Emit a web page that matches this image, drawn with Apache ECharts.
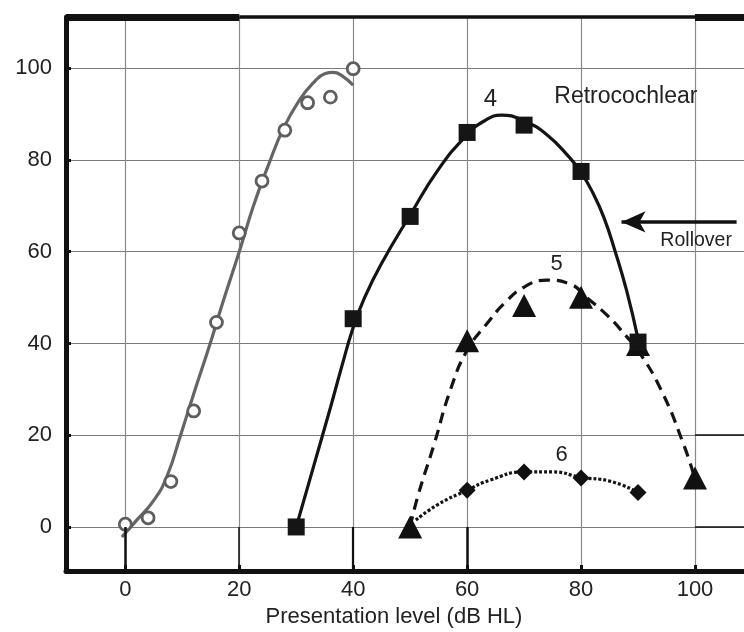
<!DOCTYPE html>
<html><head><meta charset="utf-8">
<script src="https://cdn.jsdelivr.net/npm/echarts@6/dist/echarts.min.js"></script>
<style>html,body{margin:0;padding:0;background:#fff}#c{width:744px;height:632px}</style>
</head><body><div id="c"></div>
<script>
// ---- data ----
const xTickValues = [0, 20, 40, 60, 80, 100];
const yTickValues = [0, 20, 40, 60, 80, 100];
const xAxisTitle = 'Presentation level (dB HL)';

// normal (cochlear) function: open circles + fitted gray curve
const normalX = [0, 4, 8, 12, 16, 20, 24, 28, 32, 36, 40];
const normalY = [0.6, 2.0, 9.9, 25.3, 44.6, 64.1, 75.4, 86.5, 92.5, 93.7, 99.9];
const normalFit = [[-0.6,-2.2],[2,1.5],[5,5.8],[7.3,11],[9.7,20],[12,29],[14.9,40],[17,48.5],[20,60],[22.5,70],[25,78.5],[27.8,87],[30.8,93.5],[33,96.8],[35,98.8],[36.5,99.1],[38,98.4],[40,96.3]];

// curve 4: squares + solid fit
const c4X = [30, 40, 50, 60, 70, 80, 90];
const c4Y = [0, 45.4, 67.7, 86, 87.6, 77.5, 40.3];
const c4Fit = [[30,0],[33,13],[36,26],[38,35],[40,43.5],[42,50],[45,57.5],[50,68],[55,78],[60,85.5],[63,88.5],[66,89.8],[70,88.5],[74,85.5],[78,80.5],[80,77.3],[82,73],[84,67.5],[86,60],[88,51.5],[90,41]];

// curve 5: triangles + dashed fit
const c5X = [50, 60, 70, 80, 90, 100];
const c5Y = [0, 40.6, 48.3, 50.1, 39.8, 10.7];
const c5Fit = [[50,0],[51.3,6.5],[54.2,18],[57.1,30],[60,38.5],[63.6,44.5],[66.5,48.7],[70,52.3],[74,53.8],[78,53],[81,50],[84.7,46],[88,41.5],[90,38.5],[94,30],[98,18],[100,10.5]];

// curve 6: diamonds + dotted fit
const c6X = [60, 70, 80, 90];
const c6Y = [8, 12, 10.7, 7.5];
const c6Fit = [[51,1.5],[55,5],[60,8],[64,10.2],[70,12],[75,12],[80,10.8],[85,10],[90,7.6]];

// annotation texts
const annoTexts = ['4', 'Retrocochlear', '5', '6', 'Rollover'];

// ---- chart ----
const FONT = "'Liberation Sans', Arial, Helvetica, sans-serif";
const pairs = (xs, ys) => xs.map((x, i) => [x, ys[i]]);
const X_MIN = -10.41, X_MAX = 111.41, Y_MIN = -9.6, Y_MAX = 111.17;

const seg = (a, b, width, color) => [
  { coord: a, symbol: 'none', lineStyle: { width: width, color: color || '#111', type: 'solid' } },
  { coord: b, symbol: 'none', lineStyle: { width: width, color: color || '#111', type: 'solid' } }
];
const txt = (text, x, y, size, align) => ({
  coord: [x, y], value: 0, symbol: 'circle', symbolSize: 0,
  label: { show: true, formatter: text, position: 'inside', fontSize: size, fontFamily: FONT,
           color: '#222', align: align || 'center', verticalAlign: 'middle' }
});

const chart = echarts.init(document.getElementById('c'), null, { renderer: 'canvas' });
chart.setOption({
  animation: false,
  backgroundColor: '#fff',
  grid: { left: 66, top: 17, width: 694, height: 554, containLabel: false, outerBoundsMode: 'none' },
  xAxis: {
    type: 'value', min: X_MIN, max: X_MAX, minInterval: 20, maxInterval: 20,
    name: xAxisTitle, nameLocation: 'middle', nameGap: 34,
    nameTextStyle: { fontSize: 22, fontFamily: FONT, color: '#222', padding: [0, 38, 0, 0] },
    axisLine: { show: true, onZero: false, lineStyle: { color: '#111', width: 5 } },
    axisTick: { show: true, inside: true, length: 6, lineStyle: { color: '#111', width: 3 } },
    axisLabel: { fontSize: 22, fontFamily: FONT, color: '#222', margin: 8,
      formatter: v => (xTickValues.indexOf(v) >= 0 ? String(v) : '') },
    splitLine: { show: true, lineStyle: { color: '#8a8a8a', width: 1.2 } }
  },
  yAxis: {
    type: 'value', min: Y_MIN, max: Y_MAX, minInterval: 20, maxInterval: 20,
    axisLine: { show: true, onZero: false, lineStyle: { color: '#111', width: 5 } },
    axisTick: { show: true, inside: true, length: 5, lineStyle: { color: '#111', width: 3 } },
    axisLabel: { fontSize: 22, fontFamily: FONT, color: '#222', margin: 14,
      formatter: v => (yTickValues.indexOf(v) >= 0 ? String(v) : '') },
    splitLine: { show: true, lineStyle: { color: '#7a7a7a', width: 1.2 } }
  },
  series: [
    // frame / decorations
    {
      type: 'line', data: [], silent: true, clip: false, z: 1,
      markLine: {
        silent: true, animation: false, symbol: ['none', 'none'], label: { show: false },
        data: [
          seg([X_MIN, Y_MAX], [20, Y_MAX], 7),
          seg([20, Y_MAX], [100, Y_MAX], 3.5),
          seg([100, Y_MAX], [X_MAX, Y_MAX], 7),
          seg([0, Y_MIN], [0, 0], 2.5),
          seg([20, Y_MIN], [20, 0], 1.5),
          seg([40, Y_MIN], [40, 0], 2.2),
          seg([60, Y_MIN], [60, 0], 2.5),
          seg([100, 20], [X_MAX, 20], 1.6),
          seg([100, 0], [X_MAX, 0], 1.6)
        ]
      }
    },
    // rollover arrow + annotations
    {
      type: 'line', data: [], silent: true, clip: false, z: 5,
      markLine: {
        silent: true, animation: false, label: { show: false },
        symbol: ['none', 'arrow'], symbolSize: [16, 24],
        lineStyle: { color: '#111', width: 3.5, type: 'solid' },
        data: [[{ coord: [107.3, 66.5] }, { coord: [87.1, 66.5] }]]
      },
      markPoint: {
        silent: true, animation: false,
        data: [
          txt(annoTexts[0], 64.1, 93.3, 24),
          txt(annoTexts[1], 75.3, 93.8, 23, 'left'),
          txt(annoTexts[2], 75.7, 57.3, 22),
          txt(annoTexts[3], 76.6, 15.6, 22),
          txt(annoTexts[4], 100.2, 62.5, 19.5)
        ]
      }
    },
    // fitted curves
    { type: 'line', data: normalFit, smooth: 0.5, symbol: 'none', z: 3,
      lineStyle: { color: '#656565', width: 3.2 } },
    { type: 'line', data: c4Fit, smooth: 0.5, symbol: 'none', z: 3,
      lineStyle: { color: '#141414', width: 3.2 } },
    { type: 'line', data: c5Fit, smooth: 0.5, symbol: 'none', z: 3,
      lineStyle: { color: '#141414', width: 3.2, type: [11, 7] } },
    { type: 'line', data: c6Fit, smooth: 0.5, symbol: 'none', z: 3,
      lineStyle: { color: '#141414', width: 3.2, type: [3, 2] } },
    // data points
    { type: 'scatter', data: pairs(normalX, normalY), symbol: 'circle', symbolSize: 12, z: 4,
      itemStyle: { color: '#fff', borderColor: '#5e5e5e', borderWidth: 2.8, opacity: 1 } },
    { type: 'scatter', data: pairs(c5X, c5Y), symbol: 'triangle', symbolSize: [24, 23], z: 4,
      itemStyle: { color: '#111', opacity: 1 } },
    { type: 'scatter', data: pairs(c4X, c4Y), symbol: 'rect', symbolSize: 17, z: 4,
      itemStyle: { color: '#151515', opacity: 1 } },
    { type: 'scatter', data: pairs(c6X, c6Y), symbol: 'diamond', symbolSize: 17, z: 4,
      itemStyle: { color: '#111', opacity: 1 } }
  ]
});
</script></body></html>
